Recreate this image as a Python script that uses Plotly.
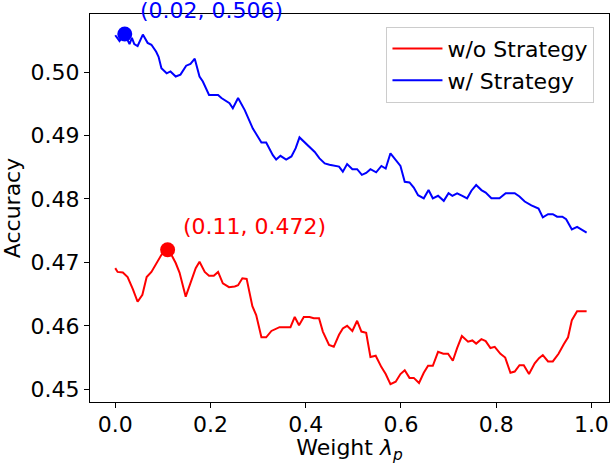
import plotly.graph_objects as go

# weight lambda_p vs accuracy
wo_x = [0.000, 0.005, 0.016, 0.026, 0.037, 0.047, 0.057, 0.066, 0.076, 0.086,
        0.097, 0.110, 0.118, 0.127, 0.135, 0.148, 0.160, 0.169, 0.177, 0.188,
        0.197, 0.207, 0.216, 0.226, 0.239, 0.251, 0.258, 0.267, 0.276, 0.288,
        0.296, 0.307, 0.317, 0.328, 0.345, 0.368, 0.377, 0.386, 0.396, 0.408,
        0.417, 0.428, 0.436, 0.449, 0.459, 0.470, 0.478, 0.487, 0.498, 0.508,
        0.517, 0.527, 0.536, 0.547, 0.559, 0.568, 0.578, 0.589, 0.599, 0.608,
        0.618, 0.627, 0.638, 0.648, 0.657, 0.667, 0.678, 0.689, 0.699, 0.709,
        0.718, 0.728, 0.741, 0.750, 0.758, 0.769, 0.778, 0.788, 0.797, 0.809,
        0.819, 0.830, 0.839, 0.849, 0.858, 0.869, 0.881, 0.890, 0.898, 0.909,
        0.919, 0.931, 0.942, 0.951, 0.959, 0.970, 0.990]
wo_acc = [0.4691, 0.4685, 0.4684, 0.4677, 0.4658, 0.4638, 0.4649, 0.4677, 0.4685, 0.4699,
          0.4712, 0.4720, 0.4712, 0.4699, 0.4684, 0.4646, 0.4672, 0.4691, 0.4701, 0.4685,
          0.4679, 0.4679, 0.4685, 0.4667, 0.4661, 0.4662, 0.4664, 0.4675, 0.4674, 0.4631,
          0.4617, 0.4582, 0.4582, 0.4592, 0.4598, 0.4598, 0.4614, 0.4601, 0.4614, 0.4614,
          0.4612, 0.4612, 0.4591, 0.4570, 0.4567, 0.4586, 0.4596, 0.4600, 0.4592, 0.4608,
          0.4591, 0.4589, 0.4551, 0.4553, 0.4535, 0.4524, 0.4508, 0.4512, 0.4524, 0.4530,
          0.4518, 0.4518, 0.4510, 0.4526, 0.4537, 0.4537, 0.4559, 0.4556, 0.4556, 0.4545,
          0.4565, 0.4584, 0.4575, 0.4577, 0.4572, 0.4579, 0.4576, 0.4565, 0.4567, 0.4556,
          0.4550, 0.4526, 0.4528, 0.4538, 0.4538, 0.4524, 0.4541, 0.4549, 0.4554, 0.4544,
          0.4544, 0.4556, 0.4571, 0.4582, 0.4609, 0.4623, 0.4623]

w_x = [0.000, 0.009, 0.020, 0.030, 0.035, 0.040, 0.047, 0.058, 0.068, 0.076,
       0.086, 0.091, 0.097, 0.108, 0.116, 0.127, 0.137, 0.149, 0.158, 0.167,
       0.177, 0.184, 0.197, 0.216, 0.223, 0.233, 0.240, 0.247, 0.258, 0.272,
       0.289, 0.307, 0.317, 0.331, 0.338, 0.347, 0.359, 0.370, 0.379, 0.387,
       0.398, 0.408, 0.419, 0.429, 0.440, 0.450, 0.460, 0.470, 0.478, 0.487,
       0.498, 0.508, 0.518, 0.527, 0.536, 0.548, 0.559, 0.568, 0.578, 0.590,
       0.599, 0.608, 0.618, 0.627, 0.636, 0.648, 0.658, 0.667, 0.678, 0.690,
       0.700, 0.708, 0.718, 0.729, 0.739, 0.748, 0.758, 0.769, 0.778, 0.790,
       0.807, 0.820, 0.839, 0.849, 0.860, 0.874, 0.889, 0.898, 0.909, 0.919,
       0.928, 0.939, 0.947, 0.959, 0.970, 0.990]
w_acc = [0.5058, 0.5049, 0.5060, 0.5044, 0.5054, 0.5044, 0.5041, 0.5059, 0.5046, 0.5043,
         0.5032, 0.5024, 0.5006, 0.4998, 0.5001, 0.4993, 0.4996, 0.5010, 0.5013, 0.5021,
         0.4993, 0.4985, 0.4964, 0.4964, 0.4959, 0.4954, 0.4951, 0.4943, 0.4959, 0.4940,
         0.4911, 0.4889, 0.4889, 0.4869, 0.4862, 0.4868, 0.4862, 0.4867, 0.4880, 0.4897,
         0.4889, 0.4883, 0.4874, 0.4864, 0.4856, 0.4854, 0.4852, 0.4851, 0.4843, 0.4855,
         0.4847, 0.4847, 0.4838, 0.4841, 0.4847, 0.4842, 0.4852, 0.4848, 0.4872, 0.4861,
         0.4852, 0.4827, 0.4826, 0.4818, 0.4806, 0.4801, 0.4814, 0.4801, 0.4805, 0.4797,
         0.4809, 0.4805, 0.4809, 0.4805, 0.4801, 0.4813, 0.4822, 0.4814, 0.4810, 0.4801,
         0.4801, 0.4809, 0.4809, 0.4804, 0.4796, 0.4790, 0.4785, 0.4771, 0.4776, 0.4776,
         0.4772, 0.4772, 0.4768, 0.4752, 0.4756, 0.4747]

best_wo = (0.11, 0.472)
best_w = (0.02, 0.506)

x_ticks = [0.0, 0.2, 0.4, 0.6, 0.8, 1.0]
y_ticks = [0.45, 0.46, 0.47, 0.48, 0.49, 0.50]

FONT = "DejaVu Sans"
FS = 22

fig = go.Figure()
fig.add_trace(go.Scatter(x=wo_x, y=wo_acc, mode="lines", name="w/o Strategy",
                         line=dict(color="red", width=2)))
fig.add_trace(go.Scatter(x=w_x, y=w_acc, mode="lines", name="w/ Strategy",
                         line=dict(color="blue", width=2)))

# best points + labels
for (bx, by), col in [(best_wo, "red"), (best_w, "blue")]:
    fig.add_trace(go.Scatter(x=[bx], y=[by], mode="markers", showlegend=False,
                             marker=dict(color=col, size=15), cliponaxis=False))
    fig.add_annotation(x=bx, y=by, text=f"({bx:.2f}, {by:.3f})", showarrow=False,
                       xanchor="left", yanchor="middle", xshift=13, yshift=23,
                       font=dict(family=FONT, size=FS, color=col))

axis_common = dict(showline=True, linecolor="black", linewidth=1, mirror=True,
                   ticks="outside", ticklen=5, tickcolor="black", showgrid=False,
                   zeroline=False, automargin=False,
                   tickfont=dict(family=FONT, size=FS, color="black"))

fig.update_xaxes(range=[-0.053, 1.037], tickvals=x_ticks, tickformat=".1f",
                 ticklabelstandoff=-2,
                 title=dict(text="Weight <i>λ</i><sub><i>p</i></sub>",
                            font=dict(family=FONT, size=FS, color="black"), standoff=5),
                 **axis_common)
fig.update_yaxes(range=[0.448, 0.50915], tickvals=y_ticks, tickformat=".2f",
                 title=dict(text="Accuracy", font=dict(family=FONT, size=FS, color="black"),
                            standoff=8),
                 **axis_common)

fig.update_layout(
    width=612, height=464,
    margin=dict(l=90, r=3, t=14, b=62),
    plot_bgcolor="white", paper_bgcolor="white",
    font=dict(family=FONT, size=FS, color="black"),
    legend=dict(x=0.972, y=0.967, xanchor="right", yanchor="top",
                bordercolor="#cccccc", borderwidth=1, bgcolor="white",
                font=dict(family=FONT, size=FS), itemwidth=50),
)

# drop the default 8px page margin so the figure sits at the window corner
fig.write_html("out.html", config={"displayModeBar": False},
               post_script="document.body.style.margin='0';")
